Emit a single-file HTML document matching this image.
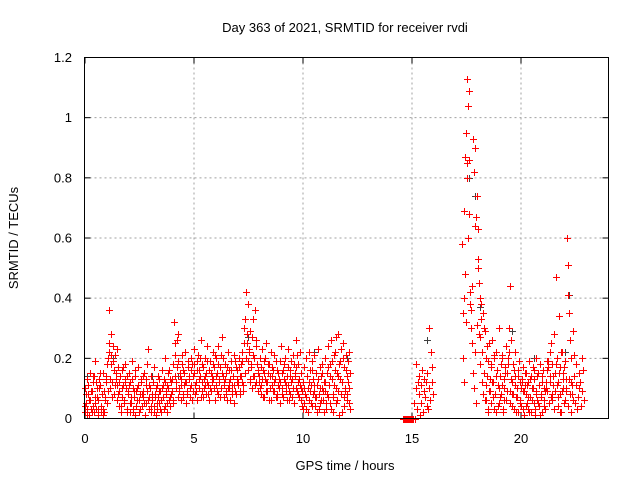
<!DOCTYPE html>
<html><head><meta charset="utf-8">
<style>
html,body{margin:0;padding:0;background:#fff;}
svg{display:block;font-family:"Liberation Sans",sans-serif;}
</style></head>
<body>
<svg id="chart" width="640" height="480" viewBox="0 0 640 480">
<rect x="0" y="0" width="640" height="480" fill="#fff"/>
<g id="grid"></g>
<g id="ticks"></g>
<g id="marks"></g>
<rect x="84.5" y="57.5" width="524" height="361" fill="none" stroke="#000" stroke-width="1"/>
<text x="345" y="32" font-size="13" text-anchor="middle">Day 363 of 2021, SRMTID for receiver rvdi</text>
<text x="345" y="470" font-size="13" text-anchor="middle">GPS time / hours</text>
<text transform="translate(18,238) rotate(-90)" font-size="13" text-anchor="middle">SRMTID / TECUs</text>
</svg>
<script>
const xTicks=[0,5,10,15,20];
const yTicks=[0,0.2,0.4,0.6,0.8,1,1.2];
const yTickLabels=["0","0.2","0.4","0.6","0.8","1","1.2"];
const segAStart=0;
const segAVals=[0.02,0.10,0.05,0.13,0.03,0.08,0.01,0.06,0.15,0.09,0.02,0.12,0.04,0.14,0.07,0.19,0.03,0.10,0.06,0.01,0.13,0.11,0.04,0.02,0.08,0.15,0.03,0.02,0.07,0.12,
0.14,0.05,0.20,0.36,0.22,0.10,0.28,0.18,0.12,0.24,0.08,0.16,0.21,0.13,0.06,0.11,0.17,0.04,0.09,0.14,0.02,0.16,0.07,0.11,0.05,0.12,0.18,0.10,0.03,0.14,
0.08,0.15,0.02,0.12,0.05,0.19,0.03,0.10,0.07,0.14,0.01,0.09,0.06,0.17,0.11,0.02,0.08,0.13,0.12,0.04,0.07,0.09,0.15,0.01,0.05,0.11,0.18,0.23,0.07,0.03,
0.10,0.02,0.14,0.06,0.12,0.04,0.17,0.08,0.01,0.03,0.11,0.07,0.13,0.05,0.09,0.02,0.16,0.10,0.07,0.03,0.12,0.20,0.09,0.05,0.11,0.15,0.06,0.04,0.13,0.08,
0.09,0.18,0.05,0.32,0.14,0.25,0.12,0.26,0.07,0.19,0.10,0.15,0.06,0.13,0.21,0.16,0.08,0.11,0.22,0.12,0.05,0.09,0.17,0.14,0.13,0.07,0.20,0.11,0.18,0.09,
0.15,0.23,0.08,0.12,0.19,0.06,0.21,0.10,0.16,0.14,0.26,0.09,0.18,0.07,0.13,0.11,0.20,0.15,0.24,0.12,0.08,0.16,0.10,0.19,0.09,0.14,0.22,0.13,0.17,0.06,
0.11,0.20,0.15,0.08,0.24,0.13,0.17,0.10,0.21,0.27,0.14,0.07,0.12,0.18,0.09,0.15,0.06,0.22,0.10,0.16,0.13,0.19,0.08,0.11,0.14,0.21,0.05,0.09,0.17,0.12,
0.16,0.11,0.20,0.08,0.14,0.18,0.22,0.12,0.09,0.25,0.33,0.15,0.42,0.28,0.19,0.38,0.22,0.13,0.29,0.17,0.10,0.33,0.21,0.14,0.36,0.12,0.24,0.18,0.09,0.15,
0.14,0.20,0.08,0.11,0.23,0.16,0.19,0.07,0.13,0.25,0.12,0.09,0.15,0.18,0.06,0.10,0.22,0.14,0.17,0.09,0.12,0.21,0.13,0.07,0.08,0.16,0.11,0.13,0.19,0.05,
0.24,0.10,0.15,0.07,0.18,0.12,0.20,0.09,0.14,0.11,0.23,0.06,0.16,0.08,0.19,0.13,0.21,0.10,0.05,0.14,0.17,0.26,0.09,0.12,0.18,0.07,0.22,0.10,0.15,0.04,
0.12,0.05,0.17,0.08,0.20,0.03,0.14,0.10,0.22,0.06,0.16,0.11,0.19,0.04,0.13,0.09,0.21,0.07,0.15,0.02,0.11,0.23,0.08,0.17,0.05,0.14,0.10,0.18,0.06,0.12,
0.09,0.20,0.03,0.15,0.07,0.24,0.11,0.18,0.05,0.26,0.13,0.08,0.02,0.21,0.16,0.27,0.10,0.06,0.14,0.28,0.01,0.19,0.08,0.23,0.12,0.25,0.04,0.17,0.09,0.21,
0.14,0.06,0.19,0.22,0.10,0.03];
const segA2Vals=[0.04,0.08,0.01,0.11,0.06,0.03,0.09,0.14,0.02,0.05,0.12,0.07,0.03,0.10,0.15,0.04,0.01,0.09,0.06,0.13,
0.18,0.09,0.25,0.13,0.21,0.07,0.19,0.11,0.15,0.23,0.08,0.12,0.14,0.04,0.10,0.17,0.06,0.13,0.02,0.09,
0.11,0.05,0.07,0.13,0.02,0.09,0.16,0.04,0.10,0.06,0.03,0.12,0.08,0.14,0.05,0.01,0.13,0.09,0.06,0.11,
0.04,0.08,0.12,0.02,0.07,0.10,0.05,0.14,0.09,0.03,0.06,0.11,0.13,0.04,0.08,0.02,0.10,0.16,0.07,0.12,
0.13,0.06,0.21,0.10,0.17,0.28,0.09,0.14,0.11,0.18,0.07,0.15,0.12,0.08,0.19,0.13,0.10,0.16,0.06,0.14,
0.18,0.11,0.09,0.16,0.13,0.20,0.07,0.12,0.17,0.10,0.14,0.08,0.19,0.11,0.06,0.15,0.12,0.18,0.10,0.21,
0.14,0.09,0.18,0.12,0.07,0.15,0.20,0.11,0.13,0.08,0.17,0.10,0.12,0.06,0.16,0.09,0.11,0.19,0.08,0.13,
0.12,0.17,0.09,0.14,0.19,0.11,0.30,0.20,0.25,0.16,0.23,0.12,0.18,0.27,0.14,0.20,0.11,0.26,0.16,0.12,
0.10,0.17,0.13,0.07,0.15,0.20,0.09,0.12,0.18,0.14,0.06,0.11,0.16,0.09,0.13,0.19,0.07,0.15,0.10,0.12,
0.08,0.16,0.13,0.20,0.11,0.06,0.17,0.09,0.14,0.12,0.07,0.18,0.15,0.10,0.21,0.08,0.13,0.11,0.06,0.09,
0.03,0.10,0.07,0.14,0.02,0.12,0.09,0.05,0.16,0.08,0.11,0.04,0.07,0.13,0.03,0.10,0.06,0.15,0.09,0.02,
0.12,0.05,0.08,0.17,0.14,0.03,0.19,0.07,0.11,0.22,0.05,0.15,0.09,0.18,0.13,0.02,0.20,0.07,0.10,0.16,
0.08,0.12,0.05,0.15];
const segBStart=14.6;
const segBVals=[0,0,0,0,0,0,0,0,0,0,0,0,0,0,0,0.05,0,0.10,0.18,0.03,0.12,0.08,0.14,0.01,0.11,0.05,0.16,0.02,0.09,0.13,0.07,0.12,0.04,0.15,0.03,0.10,0.30,0.06,0.22,0.12,0.17,0.08];
const segCStart=17.3;
const segCVals=[0.58,0.35,0.40,0.69,0.87,0.95,1.13,0.85,1.04,1.09,0.68,0.38,0.30,0.44,0.25,
0.93,0.82,0.64,0.90,0.67,0.74,0.53,0.50,0.28,0.40,0.18,0.33,0.22,0.08,0.35,
0.15,0.29,0.06,0.11,0.24,0.02,0.19,0.09,0.13,0.05,0.17,0.26,0.12,0.03,0.20,0.08,0.14,0.22,0.16,0.04,0.10,0.30,0.07,0.18,0.11,0.21,0.02,0.13,0.06,0.17,
0.24,0.09,0.15,0.20,0.30,0.05,0.44,0.26,0.12,0.08,0.18,0.03,0.14,0.22,0.07,0.10,0.02,0.16,0.19,0.06,0.12,0.04,0.13,0.09,0.17,0.01,0.11,0.08,0.15,0.05,
0.12,0.03,0.19,0.07,0.14,0.02,0.10,0.17,0.05,0.13,0.01,0.09,0.20,0.06,0.15,0.04,0.11,0.18,0.08,0.14,0.02,0.16,0.06,0.10,0.03,0.12,0.19,0.09,0.17,0.05,
0.14,0.22,0.07,0.06,0.18,0.11,0.28,0.09,0.15,0.47,0.20,0.04,0.12,0.34,0.08,0.17,0.02,0.22,0.10,0.15,0.05,0.19,0.09,0.13,0.60,0.51,0.41,0.35,0.26,0.12,
0.20,0.08,0.29,0.14,0.21,0.05,0.11,0.18,0.03,0.07,0.15,0.10,0.12,0.04,0.20,0.09,0.16,0.06];
const segC2Vals=[0.20,0.12,0.48,0.32,0.80,0.60,0.86,0.42,0.36,0.15,0.10,0.22,0.05,0.31,
0.63,0.45,0.27,0.38,0.12,0.30,0.06,0.20,0.14,0.03,0.25,0.09,0.18,0.12,0.07,0.21,0.02,0.16,0.11,0.05,0.14,0.08,
0.20,0.03,0.10,0.15,0.06,0.18,0.22,0.09,0.13,0.04,0.08,0.16,0.11,0.02,0.07,0.14,0.05,0.10,0.12,0.03,
0.09,0.15,0.04,0.11,0.07,0.02,0.13,0.06,0.10,0.16,0.03,0.08,0.14,0.05,0.11,0.01,0.07,0.12,0.04,0.09,
0.10,0.16,0.19,0.05,0.12,0.25,0.08,0.14,0.03,0.18,0.11,0.07,0.15,0.02,0.22,0.09,0.13,0.17,0.06,0.10,
0.04,0.13,0.08,0.02,0.11,0.06];
const grayTimes=[0.1,1.3,3.1,4.3,7.5,9.2,10.5,12.0,15.7,17.6,17.9,18.1,19.6,20.6,22.0,22.2];
const grayVals=[0.14,0.20,0.14,0.14,0.27,0.20,0.22,0.20,0.26,0.80,0.74,0.37,0.29,0.20,0.22,0.41];

const X0=84.5,X1=608.5,Y0=418.5,Y1=57.5,XMAX=24,YMAX=1.2;
const xs=t=>X0+(t/XMAX)*(X1-X0);
const ys=v=>Y0-(v/YMAX)*(Y0-Y1);
const NS="http://www.w3.org/2000/svg";
function mk(tag,attrs,parent){const e=document.createElementNS(NS,tag);for(const k in attrs)e.setAttribute(k,attrs[k]);parent.appendChild(e);return e;}
const grid=document.getElementById('grid'),ticks=document.getElementById('ticks'),marks=document.getElementById('marks');
xTicks.forEach((t,i)=>{
  const x=Math.round(xs(t))+0.5-0.5;
  if(t>0){const g=mk('line',{x1:x,x2:x,y1:Y1,y2:Y0,stroke:'#a0a0a0','stroke-dasharray':'2,3'},grid);
  
  }
  const tk=mk('line',{x1:x,x2:x,y1:Y0,y2:Y0-6,stroke:'#000'},ticks);
  
  
  const tk2=mk('line',{x1:x,x2:x,y1:Y1,y2:Y1+6,stroke:'#000'},ticks);
  
  
  const lb=mk('text',{x:x,y:443,'font-size':13,'text-anchor':'middle'},ticks);
  lb.textContent=String(t);
  
  
});
yTicks.forEach((v,i)=>{
  const y=ys(v);
  if(v>0&&v<YMAX){const g=mk('line',{x1:X0,x2:X1,y1:y,y2:y,stroke:'#a0a0a0','stroke-dasharray':'2,3'},grid);
  
  }
  const tk=mk('line',{x1:X0,x2:X0+6,y1:y,y2:y,stroke:'#000'},ticks);
  
  
  const tk2=mk('line',{x1:X1,x2:X1-6,y1:y,y2:y,stroke:'#000'},ticks);
  
  
  const lb=mk('text',{x:72,y:y+4.5,'font-size':13,'text-anchor':'end'},ticks);
  lb.textContent=yTickLabels[i];
  
  
});
function plus(t,v,color){
  const x=Math.round(xs(t))+0.5,y=Math.round(ys(v))+0.5;
  const p=mk('path',{d:`M${x-3.5} ${y}H${x+3.5}M${x} ${y-3.5}V${y+3.5}`,stroke:color,'stroke-width':1,fill:'none'},marks);
  
  
}
grayTimes.forEach((t,i)=>plus(t,grayVals[i],'#404040'));
function drawSeg(start,vals,per,off){
  vals.forEach((v,i)=>{const t=start+off+Math.floor(i/per)*0.1+(i%per)*(0.1/per);plus(t,v,'#ff0000');});
}
drawSeg(segAStart,segAVals,3,0);
drawSeg(segAStart,segA2Vals,2,0.025);
drawSeg(segBStart,segBVals,3,0);
drawSeg(segCStart,segCVals,3,0);
drawSeg(segCStart,segC2Vals,2,0.025);
</script>
</body></html>
